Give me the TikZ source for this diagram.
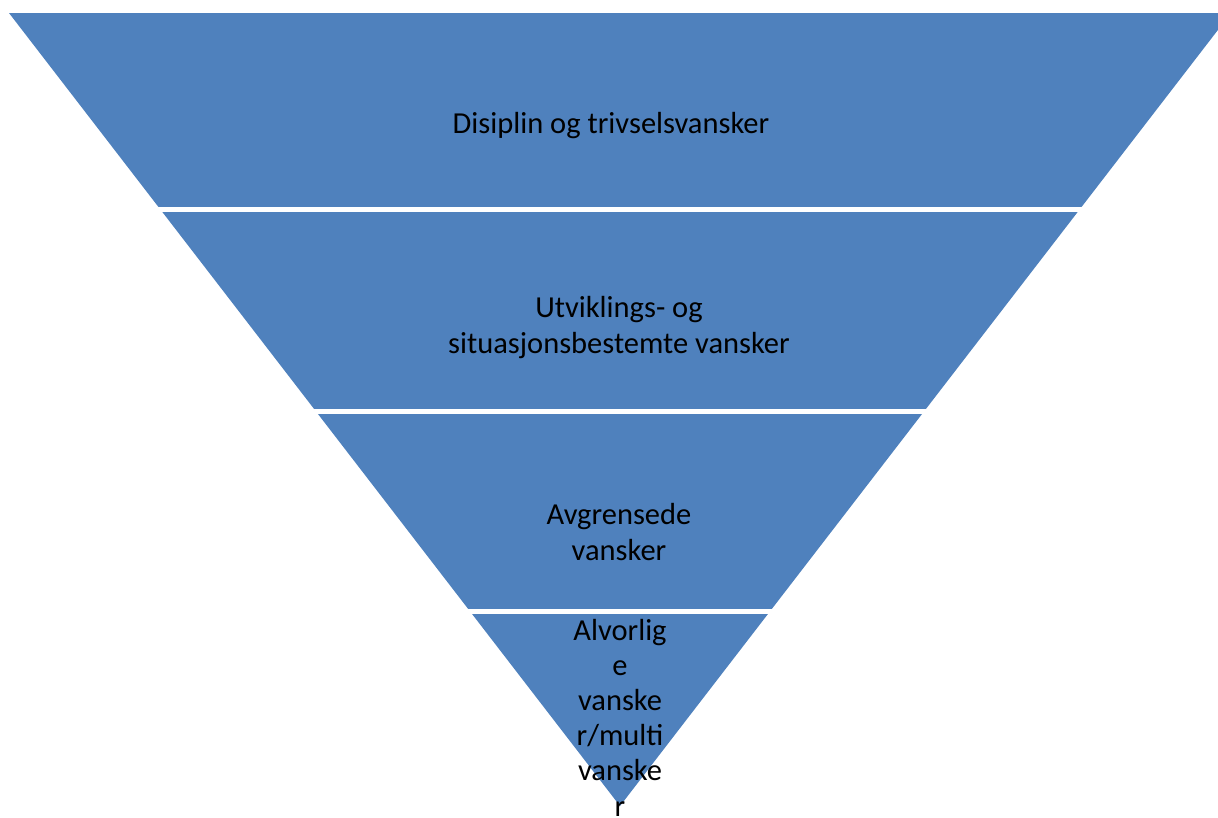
\documentclass[tikz,border=0pt]{standalone}
\usepackage{fontspec}
\setmainfont{Carlito}
\definecolor{funnelblue}{HTML}{4F81BD}
\begin{document}
\begin{tikzpicture}[x=1pt,y=-1pt,
  bandlabel/.style={inner sep=0pt, align=center, anchor=base, text=black,
    font=\fontsize{30.5}{35.2}\selectfont}]
\useasboundingbox (0,0) rectangle (1218,817);
% corners of the inverted triangle
\coordinate (tl) at (9,13);
\coordinate (tr) at (1231,13);
\coordinate (apex) at (620,806);
\begin{scope}
  \clip (tl) -- (tr) -- (apex) -- cycle;
  \fill[funnelblue] (0,13)  rectangle (1240,207);
  \fill[funnelblue] (0,212) rectangle (1240,409);
  \fill[funnelblue] (0,414) rectangle (1240,609);
  \fill[funnelblue] (0,614) rectangle (1240,820);
\end{scope}
% labels, placed by the baseline of their last line
\node[bandlabel] (t1) at (611,133) {Disiplin og trivselsvansker};
\node[bandlabel] (t2) at (619,353) {Utviklings- og\\situasjonsbestemte vansker};
\node[bandlabel] (t3) at (619,560) {Avgrensede\\vansker};
\node[bandlabel] (t4) at (620,816) {Alvorlig\\e\\vanske\\r/multi\\vanske\\r};
\end{tikzpicture}
\end{document}
